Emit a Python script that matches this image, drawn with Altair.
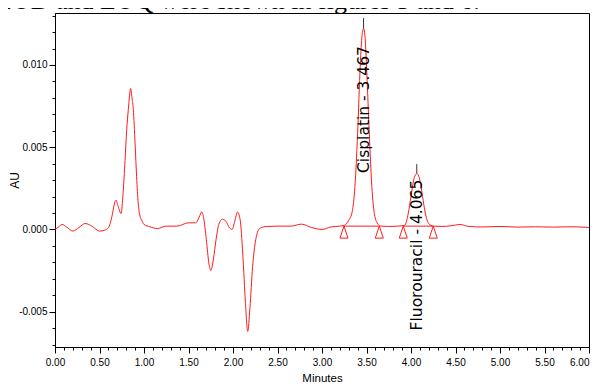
import altair as alt
import pandas as pd

# ---- data ----
time_min = [0.00, 0.04, 0.08, 0.13, 0.20, 0.27, 0.34, 0.42, 0.50, 0.56, 0.60,
            0.64, 0.665, 0.685, 0.71, 0.742, 0.765, 0.787, 0.805, 0.824, 0.85,
            0.865, 0.88, 0.90, 0.917, 0.935, 0.955, 0.973, 1.00, 1.067, 1.15,
            1.25, 1.37, 1.50, 1.58, 1.62, 1.65, 1.67, 1.70, 1.73, 1.75, 1.78,
            1.81, 1.84, 1.88, 1.92, 1.96, 1.99, 2.02, 2.05, 2.08, 2.11, 2.14,
            2.165, 2.19, 2.22, 2.25, 2.30, 2.38, 2.50, 2.65, 2.77, 2.88, 3.00,
            3.10, 3.20, 3.25, 3.30, 3.34, 3.37, 3.40, 3.43, 3.45, 3.467, 3.485,
            3.50, 3.53, 3.56, 3.59, 3.62, 3.66, 3.75, 3.85, 3.93, 3.97, 4.00,
            4.03, 4.065, 4.10, 4.13, 4.16, 4.20, 4.25, 4.35, 4.45, 4.55, 4.65,
            4.80, 5.00, 5.20, 5.40, 5.60, 5.80, 6.00]
absorbance = [0.00000, 0.00015, 0.00030, 0.00015, -0.00010, 0.00012, 0.00036,
              0.00018, -0.00010, -0.00004, 0.00010, 0.00080, 0.00150, 0.00178,
              0.00140, 0.00097, 0.00220, 0.00420, 0.00600, 0.00730, 0.00857,
              0.00800, 0.00730, 0.00520, 0.00320, 0.00160, 0.00080, 0.00057,
              0.00030, 0.00016, 0.00005, 0.00020, 0.00020, 0.00040, 0.00040,
              0.00075, 0.00107, 0.00070, -0.00060, -0.00210, -0.00250, -0.00180,
              -0.00060, 0.00030, 0.00062, 0.00050, 0.00010, 0.00000, 0.00050,
              0.00105, 0.00060, -0.00150, -0.00450, -0.00620, -0.00480, -0.00230,
              -0.00080, 0.00006, 0.00018, 0.00020, 0.00020, 0.00032, 0.00012,
              0.00000, 0.00015, 0.00020, 0.00025, 0.00055, 0.00110, 0.00260,
              0.00580, 0.01000, 0.01180, 0.01222, 0.01160, 0.01000, 0.00600,
              0.00260, 0.00090, 0.00040, 0.00020, 0.00018, 0.00020, 0.00025,
              0.00100, 0.00200, 0.00300, 0.00340, 0.00300, 0.00200, 0.00100,
              0.00035, 0.00020, 0.00018, 0.00022, 0.00030, 0.00018, 0.00015,
              0.00018, 0.00014, 0.00016, 0.00014, 0.00016, 0.00012]

# integration baselines (start, end) and their level
base_start = [3.247, 3.913]
base_end = [3.644, 4.250]
base_level = [0.00020, 0.00020]

# peak start/end markers (triangles)
marker_time = [3.247, 3.644, 3.913, 4.250]
marker_level = [0.00020, 0.00020, 0.00020, 0.00020]

# peak apex labels
peak_names = ["Cisplatin - 3.467", "Fluorouracil - 4.065"]
peak_time = [3.467, 4.065]
peak_top = [0.01222, 0.00340]
peak_tick_top = [0.01285, 0.00397]
label_center = [0.00729, -0.00156]

caption = "LOD and LOQ were shown in figures 5 and 6."

x_major = [round(0.5 * i, 1) for i in range(13)]
x_minor = [round(0.1 * i, 1) for i in range(61)]
y_major = [-0.005, 0.0, 0.005, 0.010]
y_minor = [round(-0.007 + 0.001 * i, 3) for i in range(21)]

trace = pd.DataFrame({"t": time_min, "v": absorbance})
bases = pd.DataFrame({"t": base_start, "t2": base_end, "v": base_level})
marks = pd.DataFrame({"t": marker_time, "v": marker_level})
peaks = pd.DataFrame({"name": peak_names, "t": peak_time, "top": peak_top,
                      "tick": peak_tick_top, "lab": label_center})
cap = pd.DataFrame({"s": [caption]})

xs = alt.Scale(domain=[0, 6], nice=False, zero=False)
ys = alt.Scale(domain=[-0.00715, 0.01316], nice=False, zero=False)

AXFONT = "Liberation Sans Narrow, Arial Narrow, Liberation Sans"

x_axis = alt.Axis(
    values=x_major, format=".2f", tickSize=6, orient="bottom",
    labelAlign={"condition": {"test": "datum.value >= 6", "value": "right"}, "value": "center"},
    labelFlush=False, labelOverlap=False, grid=False,
    labelFont=AXFONT, labelFontSize=10, labelPadding=4, labelColor="black",
    domainColor="black", tickColor="black",
    title="Minutes", titleFont=AXFONT, titleFontSize=11.5, titleFontWeight="normal",
    titleX=267, titleY=34, titleBaseline="alphabetic", titleAlign="center",
    titleColor="black",
)
y_axis = alt.Axis(
    values=y_major, orient="left",
    labelExpr="replace(format(datum.value, '.3f'), '\u2212', '-')",
    tickSize=6,
    labelFlush=False, labelOverlap=False, grid=False,
    labelFont=AXFONT, labelFontSize=10, labelPadding=2, labelColor="black",
    domainColor="black", tickColor="black",
    title="AU", titleFont="Liberation Sans", titleFontSize=12, titleFontWeight="normal",
    titleX=-41, titleY=167, titleBaseline="middle", titleAlign="center", titleAngle=270,
    titleColor="black",
)
x_minor_axis = alt.Axis(values=x_minor, tickSize=3, labels=False, domain=False, orient="bottom",
                        grid=False, title=None, tickColor="black")
y_minor_axis = alt.Axis(values=y_minor, tickSize=3, labels=False, domain=False, orient="left",
                        grid=False, title=None, tickColor="black")

line = alt.Chart(trace).mark_line(color="#ff1a1a", strokeWidth=1, interpolate="monotone").encode(
    x=alt.X("t:Q", scale=xs, axis=x_axis),
    y=alt.Y("v:Q", scale=ys, axis=y_axis),
)

base_rules = alt.Chart(bases).mark_rule(color="#ff1a1a", strokeWidth=1).encode(
    x=alt.X("t:Q", scale=xs, axis=x_minor_axis),
    x2="t2:Q",
    y=alt.Y("v:Q", scale=ys, axis=y_minor_axis),
)

tri = alt.Chart(marks).mark_point(
    shape="M0,0L0.667,2L-0.667,2Z", size=144, filled=False,
    color="#ff1a1a", strokeWidth=1, opacity=1,
).encode(
    x=alt.X("t:Q", scale=xs, axis=None),
    y=alt.Y("v:Q", scale=ys, axis=None),
)

apex = alt.Chart(peaks).mark_rule(color="#333333", strokeWidth=1).encode(
    x=alt.X("t:Q", scale=xs, axis=None),
    y=alt.Y("tick:Q", scale=ys, axis=None),
    y2="top:Q",
)

labels = alt.Chart(peaks).mark_text(
    angle=270, align="center", baseline="middle",
    font="DejaVu Sans", fontSize=15.5, color="black",
).encode(
    x=alt.X("t:Q", scale=xs, axis=None),
    y=alt.Y("lab:Q", scale=ys, axis=None),
    text="name:N",
)

caption_text = alt.Chart(cap).mark_text(
    align="left", baseline="alphabetic", font="Liberation Serif",
    fontSize=26, color="black",
).encode(
    x=alt.value(-59), y=alt.value(-4), text="s:N",
)

chart = alt.layer(line, base_rules, tri, apex, labels, caption_text).resolve_axis(
    x="independent", y="independent"
).properties(
    width=534, height=334,
    autosize=alt.AutoSizeParams(type="none"),
    padding={"left": 47, "top": 5, "right": 1, "bottom": 35},
).configure_view(stroke="black", strokeWidth=1)

chart.save("out.html", embed_options={"renderer": "svg", "actions": False})
